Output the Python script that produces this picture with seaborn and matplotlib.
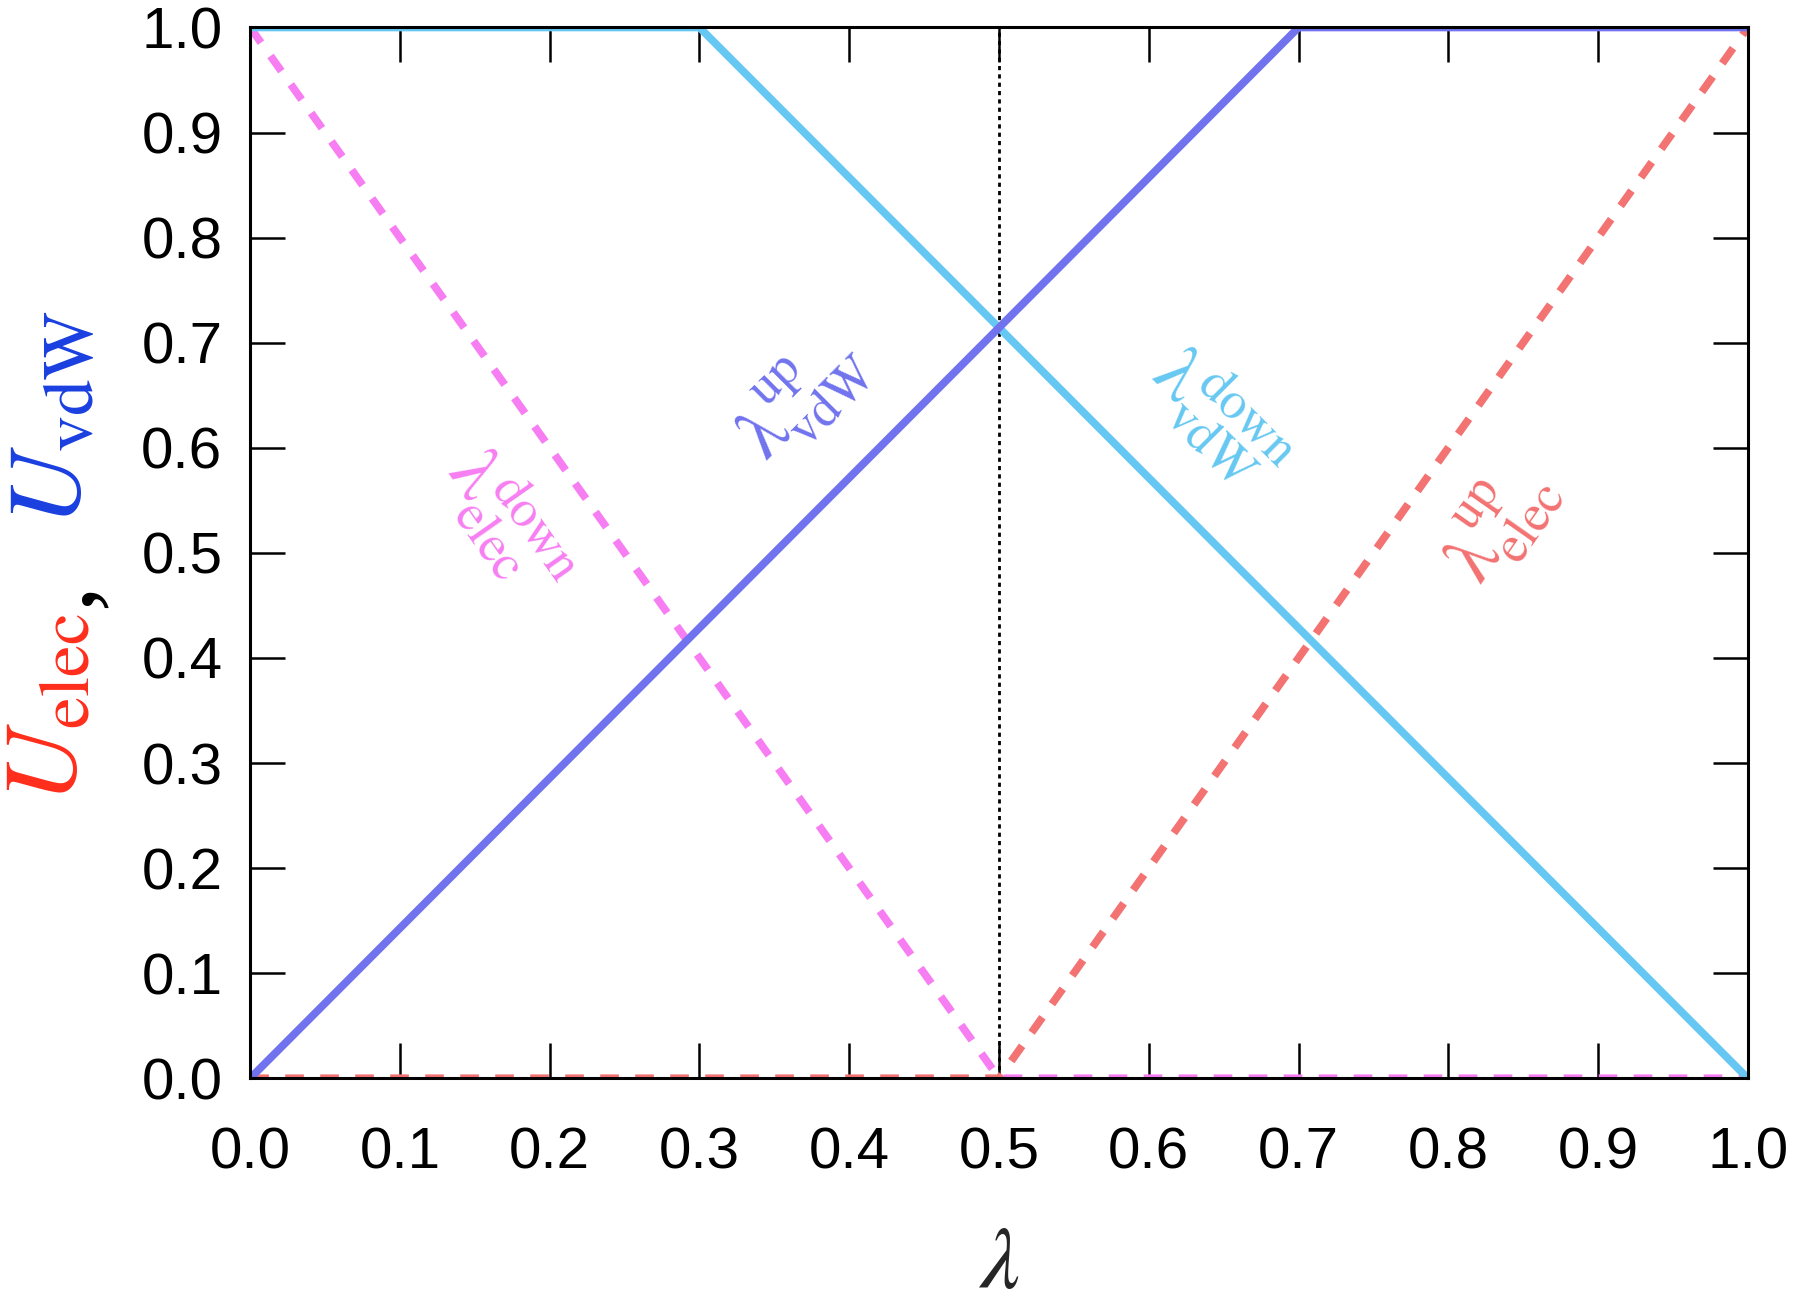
import matplotlib
matplotlib.use("Agg")
import matplotlib.pyplot as plt
import seaborn as sns

# breakpoints of the four switching schedules
lam_vdw_up = [0.0, 0.7, 1.0]
u_vdw_up = [0.0, 1.0, 1.0]
lam_vdw_down = [0.0, 0.3, 1.0]
u_vdw_down = [1.0, 1.0, 0.0]
lam_elec_down = [0.0, 0.5, 1.0]
u_elec_down = [1.0, 0.0, 0.0]
lam_elec_up = [0.0, 0.5, 1.0]
u_elec_up = [0.0, 0.0, 1.0]

ticks = [0.0, 0.1, 0.2, 0.3, 0.4, 0.5, 0.6, 0.7, 0.8, 0.9, 1.0]
tick_labels = [f"{t:.1f}" for t in ticks]

c_vdw_up = "#7173ee"
c_vdw_down = "#66c8f2"
c_elec_down = "#f77ef2"
c_elec_up = "#f37272"

sns.set_style("ticks")
plt.rcParams["font.family"] = ["Liberation Sans", "DejaVu Sans"]
plt.rcParams["mathtext.fontset"] = "stix"

fig = plt.figure(figsize=(18, 13.07), dpi=100)
ax = fig.add_axes([0.139, 0.175, 0.832, 0.804])

ax.axvline(0.5, color="black", lw=2.0, ls=(0, (1.5, 1.5)), zorder=1)

dash = (0, (2.4, 2.1))
lw = 5.6
sns.lineplot(x=lam_elec_up, y=u_elec_up, color=c_elec_up, lw=lw,
             linestyle=dash, dash_capstyle="butt", ax=ax)
sns.lineplot(x=lam_elec_down, y=u_elec_down, color=c_elec_down, lw=lw,
             linestyle=dash, dash_capstyle="butt", ax=ax)
sns.lineplot(x=lam_vdw_down, y=u_vdw_down, color=c_vdw_down, lw=lw, ax=ax)
sns.lineplot(x=lam_vdw_up, y=u_vdw_up, color=c_vdw_up, lw=lw, ax=ax)

ax.set_xlim(0, 1)
ax.set_ylim(0, 1)
ax.set_xticks(ticks)
ax.set_xticklabels(tick_labels)
ax.set_yticks(ticks)
ax.set_yticklabels(tick_labels)
ax.tick_params(direction="in", length=25, width=1.8, labelsize=42,
               top=True, right=True, colors="black")
ax.tick_params(axis="x", pad=35)
ax.tick_params(axis="y", pad=20)
for s in ax.spines.values():
    s.set_linewidth(2.2)
    s.set_color("black")
    s.set_visible(True)
    s.set_zorder(5)

# rotated curve labels
lab = dict(fontsize=54, ha="center", va="center", rotation_mode="anchor")
ax.text(0.172, 0.528, r"$\mathrm{\lambda}_{\mathrm{elec}}^{\mathrm{down}}$",
        color=c_elec_down, rotation=-55, **lab)
ax.text(0.368, 0.648, r"$\mathrm{\lambda}_{\mathrm{vdW}}^{\mathrm{up}}$",
        color=c_vdw_up, rotation=45, **lab)
ax.text(0.647, 0.628, r"$\mathrm{\lambda}_{\mathrm{vdW}}^{\mathrm{down}}$",
        color=c_vdw_down, rotation=-45, **lab)
ax.text(0.834, 0.528, r"$\mathrm{\lambda}_{\mathrm{elec}}^{\mathrm{up}}$",
        color=c_elec_up, rotation=55, **lab)

# axis labels
ax.set_xlabel(r"$\lambda$", fontsize=64, labelpad=30)
fig.text(0.028, 0.458, r"$U_{\mathrm{elec}}$", color="#ff2d1c",
         fontsize=74, rotation=90, ha="center", va="center")
fig.text(0.036, 0.545, ",", color="black", family="Liberation Serif",
         fontsize=74, rotation=90, ha="center", va="center")
fig.text(0.030, 0.68, r"$U_{\mathrm{vdW}}$", color="#1a3fe0",
         fontsize=74, rotation=90, ha="center", va="center")

fig.savefig("out.png", dpi=100, facecolor="white")
